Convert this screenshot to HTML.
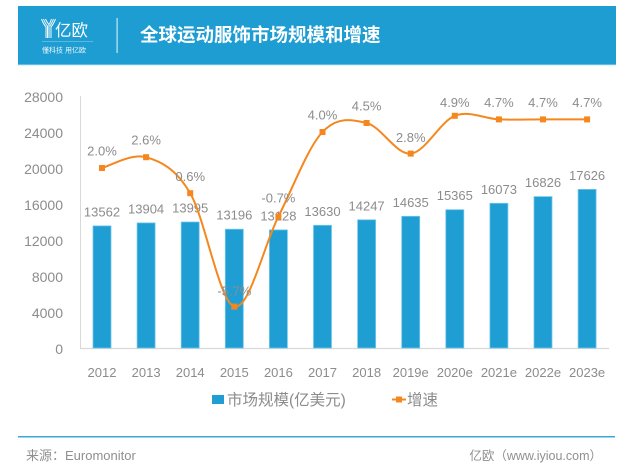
<!DOCTYPE html>
<html><head><meta charset="utf-8"><style>
html,body{margin:0;padding:0;background:#fff;}
svg{display:block;}
text{font-family:"Liberation Sans","Noto Sans CJK SC",sans-serif;}
</style></head><body>
<svg width="626" height="470" viewBox="0 0 626 470" xmlns="http://www.w3.org/2000/svg">
<!-- header -->
<rect x="18" y="6" width="598" height="59" fill="#1e9dd3"/>
<rect x="18" y="64" width="598" height="1.2" fill="#62bde6"/>
<!-- logo icon -->
<g stroke="#ffffff" stroke-width="1" fill="none" opacity="0.95">
  <path d="M41.5,19 Q44,25 46,27 L46,38"/>
  <path d="M43.5,19 Q45.5,24 47.5,26 L47.5,38"/>
  <path d="M45.5,19 Q47,22.5 49,24.5 L49,38"/>
  <path d="M55.5,19 Q53,25 51,27 L51,38"/>
  <path d="M53.5,19 Q51.5,24 50,26"/>
  <path d="M51.5,19 Q50.5,22 49.5,24"/>
</g>
<text x="55" y="36" font-size="16.5" fill="#ffffff">亿欧</text>
<rect x="42" y="41" width="51" height="0.8" fill="#ffffff" opacity="0.35"/>
<text x="42" y="52.5" font-size="7" fill="#ffffff" opacity="0.9">懂科技 用亿欧</text>
<rect x="116.5" y="18" width="1.2" height="35" fill="#ffffff" opacity="0.75"/>
<text x="140" y="41.5" font-size="18.5" font-weight="bold" fill="#ffffff" font-family="Noto Sans CJK SC,sans-serif">全球运动服饰市场规模和增速</text>

<!-- axes -->
<line x1="80.5" y1="96" x2="80.5" y2="348.5" stroke="#d9d9d9" stroke-width="1"/>
<line x1="80" y1="348.5" x2="609" y2="348.5" stroke="#d9d9d9" stroke-width="1.2"/>

<!-- y labels -->
<g font-size="14" fill="#8c8c8c" text-anchor="end">
<text x="63" y="102">28000</text>
<text x="63" y="138">24000</text>
<text x="63" y="174">20000</text>
<text x="63" y="210">16000</text>
<text x="63" y="246">12000</text>
<text x="63" y="282">8000</text>
<text x="63" y="318">4000</text>
<text x="63" y="354">0</text>
</g>

<!-- bars -->
<g fill="#1f9ed3" stroke="#74c6ea" stroke-width="0.8">
<rect x="93" y="225.9" width="18" height="122.1"/>
<rect x="137.1" y="222.9" width="18" height="125.1"/>
<rect x="181.2" y="222.0" width="18" height="126.0"/>
<rect x="225.3" y="229.2" width="18" height="118.8"/>
<rect x="269.4" y="229.9" width="18" height="118.1"/>
<rect x="313.5" y="225.3" width="18" height="122.7"/>
<rect x="357.6" y="219.8" width="18" height="128.2"/>
<rect x="401.7" y="216.3" width="18" height="131.7"/>
<rect x="445.8" y="209.7" width="18" height="138.3"/>
<rect x="489.9" y="203.3" width="18" height="144.7"/>
<rect x="534" y="196.6" width="18" height="151.4"/>
<rect x="578.1" y="189.4" width="18" height="158.6"/>
</g>

<!-- bar value labels -->
<g font-size="13" fill="#8c8c8c" text-anchor="middle">
<text x="102" y="216.4">13562</text>
<text x="146.1" y="213.4">13904</text>
<text x="190.2" y="212.5">13995</text>
<text x="234.3" y="219.7">13196</text>
<text x="278.4" y="220.4">13128</text>
<text x="322.5" y="215.8">13630</text>
<text x="366.6" y="210.3">14247</text>
<text x="410.7" y="206.8">14635</text>
<text x="454.8" y="200.2">15365</text>
<text x="498.9" y="193.8">16073</text>
<text x="543" y="187.1">16826</text>
<text x="587.1" y="179.9">17626</text>
</g>

<!-- growth line -->
<path d="M102,168 C109.35,166.2 131.4,153 146.1,157.2 C160.8,161.4 175.5,168.3 190.2,193.2 C204.9,218.1 219.6,302.7 234.3,306.6 C249,310.5 263.7,245.7 278.4,216.6 C293.1,187.5 307.8,147.6 322.5,132 C337.2,116.4 351.9,119.4 366.6,123 C381.3,126.6 396,154.8 410.7,153.6 C425.4,152.4 440.1,121.5 454.8,115.8 C469.5,110.1 484.2,118.8 498.9,119.4 C513.6,120 528.3,119.4 543,119.4 C557.7,119.4 579.75,119.4 587.1,119.4" fill="none" stroke="#f5871f" stroke-width="2"/>
<g fill="#f5871f">
<rect x="99" y="165" width="6" height="6"/>
<rect x="143.1" y="154.2" width="6" height="6"/>
<rect x="187.2" y="190.2" width="6" height="6"/>
<rect x="231.3" y="303.6" width="6" height="6"/>
<rect x="275.4" y="213.6" width="6" height="6"/>
<rect x="319.5" y="129" width="6" height="6"/>
<rect x="363.6" y="120" width="6" height="6"/>
<rect x="407.7" y="150.6" width="6" height="6"/>
<rect x="451.8" y="112.8" width="6" height="6"/>
<rect x="495.9" y="116.4" width="6" height="6"/>
<rect x="540" y="116.4" width="6" height="6"/>
<rect x="584.1" y="116.4" width="6" height="6"/>
</g>

<!-- percent labels -->
<g font-size="13" fill="#8c8c8c" text-anchor="middle">
<text x="102" y="155.5">2.0%</text>
<text x="146.1" y="144.7">2.6%</text>
<text x="190.2" y="181.2">0.6%</text>
<text x="234.3" y="295.5">-5.7%</text>
<text x="278.4" y="202.5">-0.7%</text>
<text x="322.5" y="119.5">4.0%</text>
<text x="366.6" y="110.5">4.5%</text>
<text x="410.7" y="141.8">2.8%</text>
<text x="454.8" y="107.2">4.9%</text>
<text x="498.9" y="107.2">4.7%</text>
<text x="543" y="107.2">4.7%</text>
<text x="587.1" y="107.2">4.7%</text>
</g>

<!-- category labels -->
<g font-size="13" fill="#8c8c8c" text-anchor="middle">
<text x="102" y="377">2012</text>
<text x="146.1" y="377">2013</text>
<text x="190.2" y="377">2014</text>
<text x="234.3" y="377">2015</text>
<text x="278.4" y="377">2016</text>
<text x="322.5" y="377">2017</text>
<text x="366.6" y="377">2018</text>
<text x="410.7" y="377">2019e</text>
<text x="454.8" y="377">2020e</text>
<text x="498.9" y="377">2021e</text>
<text x="543" y="377">2022e</text>
<text x="587.1" y="377">2023e</text>
</g>

<!-- legend -->
<rect x="212" y="395" width="12" height="9" fill="#1f9ed3"/>
<text x="227" y="405" font-size="15.5" fill="#8c8c8c">市场规模(亿美元)</text>
<line x1="392" y1="399.5" x2="406" y2="399.5" stroke="#f5871f" stroke-width="2"/>
<rect x="396" y="396.5" width="6" height="6" fill="#f5871f"/>
<text x="407" y="405" font-size="15.5" fill="#8c8c8c">增速</text>

<!-- footer -->
<rect x="18" y="436" width="597" height="1.5" fill="#3aa7dc"/>
<text x="26" y="460" font-size="13" fill="#8f8f8f">来源：Euromonitor</text>
<text x="602" y="460" font-size="12.5" fill="#8f8f8f" text-anchor="end">亿欧（www.iyiou.com）</text>
</svg>
</body></html>
